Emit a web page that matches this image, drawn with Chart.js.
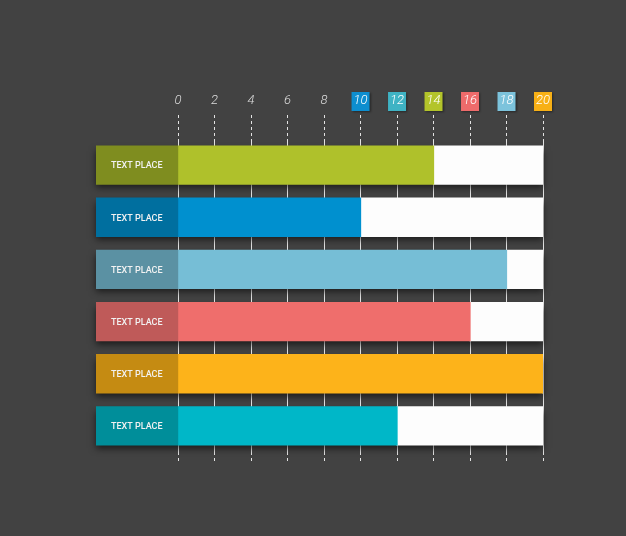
<!DOCTYPE html>
<html>
<head>
<meta charset="utf-8">
<script src="https://cdn.jsdelivr.net/npm/chart.js@4"></script>
<style>
  html, body { margin: 0; padding: 0; background: #424242; }
  #wrap { width: 626px; height: 536px; }
</style>
</head>
<body>
<div id="wrap"><canvas id="barChart" width="626" height="536"></canvas></div>
<script>
let categories = ["TEXT PLACE", "TEXT PLACE", "TEXT PLACE", "TEXT PLACE", "TEXT PLACE", "TEXT PLACE"];
let values = [14, 10, 18, 16, 20, 12];
let tickValues = [0, 2, 4, 6, 8, 10, 12, 14, 16, 18, 20];
let axisMax = 20;
let labelStart = -4.5;

let barColors = ["#afc12b", "#0090cf", "#76bed6", "#ef6e6c", "#fdb31a", "#00b7c8"];
let labelColors = ["#7f8d1f", "#006f9f", "#5b91a3", "#bf5a59", "#c58b12", "#008e9a"];
let tickBoxColors = { 10: "#0d8ecf", 12: "#3fb3c4", 14: "#b3c42a", 16: "#ee6b6b", 18: "#7cc3dc", 20: "#f7b016" };

let labelBars = categories.map(() => [labelStart, 0]);
let valueBars = values.map(v => [0, v]);
let restBars = values.map(v => [v, axisMax]);

function setTicks(axis) {
	axis.ticks = tickValues.map(v => ({ value: v }));
}

// one soft shadow under each whole row, drawn before the bars
let shadowPlugin = {
	id: "rowShadow",
	beforeDatasetsDraw(chart) {
		let ctx = chart.ctx;
		let first = chart.getDatasetMeta(0).data;
		let last = chart.getDatasetMeta(2).data;
		ctx.save();
		ctx.fillStyle = "#424242";
		ctx.shadowColor = "rgba(0,0,0,0.6)";
		ctx.shadowBlur = 7;
		ctx.shadowOffsetX = 0;
		ctx.shadowOffsetY = 4;
		first.forEach((bar, i) => {
			let left = Math.min(bar.x, bar.base);
			let right = Math.max(last[i].x, last[i].base);
			ctx.fillRect(left, bar.y - bar.height / 2, right - left, bar.height);
		});
		ctx.restore();
	}
};

let tickBoxPlugin = {
	id: "tickBoxes",
	beforeDraw(chart) {
		let ctx = chart.ctx;
		let scale = chart.scales.x;
		ctx.save();
		ctx.shadowColor = "rgba(0,0,0,0.4)";
		ctx.shadowBlur = 2;
		ctx.shadowOffsetX = 1;
		ctx.shadowOffsetY = 1;
		tickValues.forEach(v => {
			if (tickBoxColors[v]) {
				let x = scale.getPixelForValue(v);
				ctx.fillStyle = tickBoxColors[v];
				ctx.fillRect(x - 9, 92, 18, 19);
			}
		});
		ctx.restore();
	}
};

let labelTextPlugin = {
	id: "labelText",
	afterDatasetsDraw(chart) {
		let ctx = chart.ctx;
		let meta = chart.getDatasetMeta(0);
		ctx.save();
		ctx.fillStyle = "#f2f2f2";
		ctx.font = "500 9px Roboto";
		ctx.textAlign = "center";
		ctx.textBaseline = "middle";
		meta.data.forEach((bar, i) => {
			let x = (bar.x + bar.base) / 2;
			ctx.fillText(categories[i], x, bar.y + 1);
		});
		ctx.restore();
	}
};

let data = {
	labels: categories,
	datasets: [
		{ label: "labels", data: labelBars, backgroundColor: labelColors },
		{ label: "values", data: valueBars, backgroundColor: barColors },
		{ label: "rest", data: restBars, backgroundColor: "#fdfdfd" }
	]
};

let options = {
	indexAxis: "y",
	responsive: false,
	animation: false,
	layout: { padding: { left: 96, right: 83, top: 89, bottom: 74 } },
	datasets: {
		bar: { grouped: false, categoryPercentage: 1, barPercentage: 0.73, borderWidth: 0, inflateAmount: 0.6 }
	},
	plugins: {
		legend: { display: false },
		tooltip: { enabled: false }
	},
	scales: {
		x: {
			position: "top",
			min: labelStart,
			max: axisMax,
			afterBuildTicks: setTicks,
			afterFit(axis) { axis.height = 50; },
			border: { display: false },
			grid: {
				color: "rgba(255,255,255,0.85)",
				borderDash: [3, 3],
				tickLength: 24,
				tickColor: "rgba(255,255,255,0.85)",
				tickBorderDash: [3, 3]
			},
			ticks: {
				padding: 6,
				font: { family: "Roboto", size: 13, style: "italic", weight: "300" },
				color: ctx => tickBoxColors[ctx.tick.value] ? "#ffffff" : "#dddddd"
			}
		},
		x2: {
			position: "bottom",
			min: labelStart,
			max: axisMax,
			afterBuildTicks: setTicks,
			afterFit(axis) { axis.height = 10; },
			border: { display: false },
			grid: {
				drawOnChartArea: false,
				tickLength: 10,
				tickColor: "rgba(255,255,255,0.85)",
				tickBorderDash: [3, 3]
			},
			ticks: { display: false }
		},
		y: { display: false }
	}
};

let ctx = document.getElementById("barChart").getContext("2d");
let barChart = new Chart(ctx, {
	type: "bar",
	data: data,
	options: options,
	plugins: [tickBoxPlugin, shadowPlugin, labelTextPlugin]
});
</script>
</body>
</html>
